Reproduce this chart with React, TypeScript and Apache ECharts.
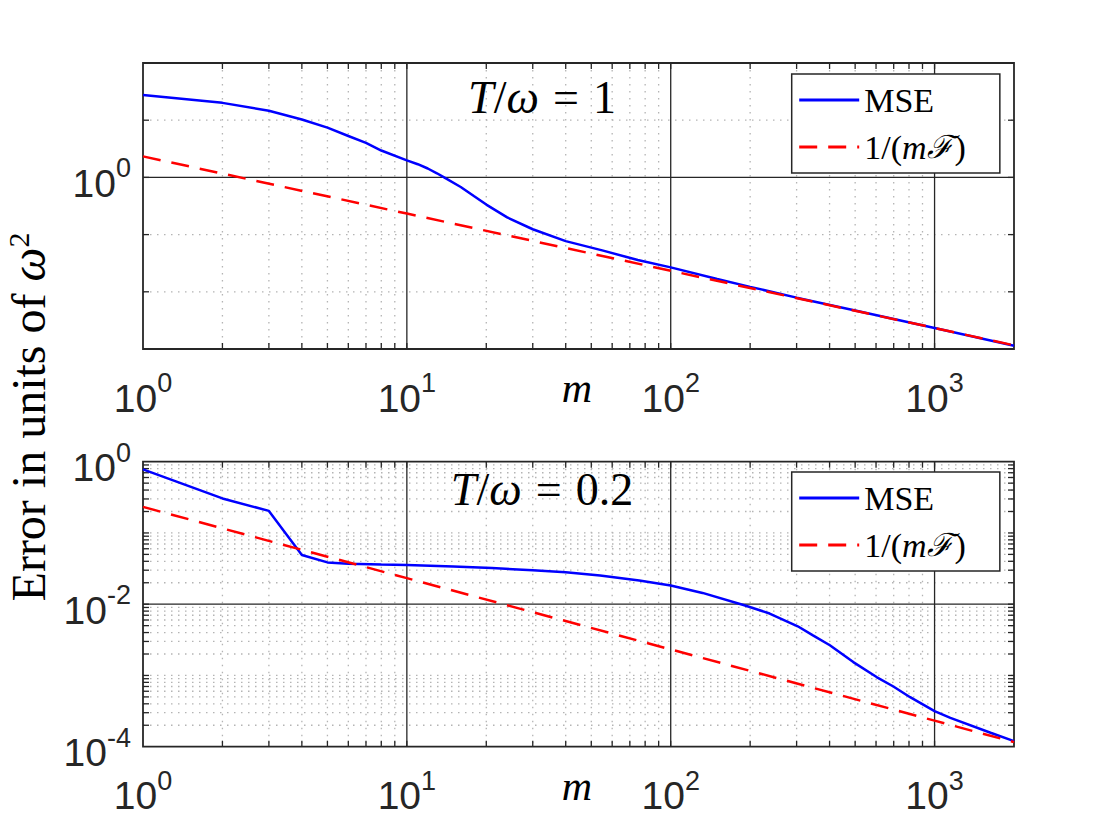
import React, { useEffect, useRef } from "react";
import * as echarts from "echarts";

// ---------- data ----------
const X_MIN = 1;
const X_MAX = 2000;
const TOP_Y_MIN = 1e-3;
const TOP_Y_MAX = 1e2;
const BOT_Y_MIN = 1e-4;
const BOT_Y_MAX = 1;

const TOP_MSE_M = [1, 2, 3, 4, 5, 6, 7, 8, 10, 11, 12, 13, 14, 16, 18, 20, 24, 30, 40, 55, 75, 100, 150, 200, 300, 500, 1000, 2000];
const TOP_MSE = [27.5, 20.1, 14.6, 10.3, 7.4, 5.3, 4.0, 2.95, 1.99, 1.7, 1.43, 1.18, 0.97, 0.68, 0.467, 0.335, 0.2, 0.124, 0.077, 0.053, 0.036, 0.0267, 0.0168, 0.0122, 0.0079, 0.0047, 0.00232, 0.00114];
const TOP_BOUND_M = [1, 10, 100, 1000, 2000];
const TOP_BOUND = [2.33, 0.233, 0.0233, 0.00233, 0.00116];

const BOT_MSE_M = [1, 2, 3, 4, 5, 6, 8, 10, 15, 21, 30, 40, 54, 76, 100, 132, 190, 237, 303, 346, 401, 492, 603, 698, 808, 1000, 1148, 1630, 2000];
const BOT_MSE = [0.78, 0.305, 0.204, 0.049, 0.0386, 0.037, 0.036, 0.0354, 0.0338, 0.0321, 0.0299, 0.0281, 0.0253, 0.0215, 0.0183, 0.0144, 0.00968, 0.0074, 0.0049, 0.00366, 0.00265, 0.00154, 0.00095, 0.0007, 0.000495, 0.000315, 0.000254, 0.000157, 0.00012];
const BOT_BOUND_M = [1, 10, 100, 1000, 2000];
const BOT_BOUND = [0.232, 0.0232, 0.00232, 0.000232, 0.000116];

// tick / grid positions
const MINOR_MULTS = [2, 3, 4, 5, 6, 7, 8, 9];
const X_DECADES = [1, 10, 100, 1000];
const X_MAJOR = [10, 100, 1000];
const TOP_Y_MAJOR = [1];
const TOP_Y_MINOR = [0.01, 0.1, 10];
const BOT_Y_DECADES = [1e-4, 1e-3, 1e-2, 1e-1];
const BOT_Y_MAJOR = [0.01];
const BOT_Y_DECADE_MINOR = [1e-3, 1e-1];

// exponents whose labels are shown
const X_LABEL_EXP = [0, 1, 2, 3];
const TOP_Y_LABEL_EXP = [0];
const BOT_Y_LABEL_EXP = [0, -2, -4];

const SERIES_NAMES = ["MSE", "1/(mℱ)"];
const TITLE_RHS = ["1", "0.2"];

// ---------- helpers ----------
const X_MINOR = X_DECADES.flatMap((d) => MINOR_MULTS.map((k) => k * d)).filter((v) => v < X_MAX);
const BOT_Y_MINOR = BOT_Y_DECADES.flatMap((d) => MINOR_MULTS.map((k) => k * d)).concat(BOT_Y_DECADE_MINOR);

const zip = (xs: number[], ys: number[]) => xs.map((x, i) => [x, ys[i]]);

const SERIF = '"Liberation Serif", "Times New Roman", serif';
const TICK_FONT = '"Liberation Sans", Arial, sans-serif';
const DARK = "#262626";

const expOf = (v: number) => {
  const l = Math.log10(v);
  const r = Math.round(l);
  return Math.abs(l - r) < 1e-6 ? r : null;
};
const makeFmt = (allowed: number[]) => (v: number) => {
  const e = expOf(v);
  if (e === null || !allowed.includes(e)) return "";
  return `{b|10}{s|${e}}`;
};

const tickRich = {
  b: { fontFamily: TICK_FONT, fontSize: 39, lineHeight: 42, color: DARK },
  s: { fontFamily: TICK_FONT, fontSize: 27, lineHeight: 10, color: DARK, padding: [0, 0, 30, 0] },
};

function gridRenderer(xMinor: number[], xMajor: number[], yMinor: number[], yMajor: number[]) {
  return (params: any, api: any) => {
    const cs = params.coordSys;
    const left = cs.x;
    const top = cs.y;
    const right = cs.x + cs.width;
    const bottom = cs.y + cs.height;
    const refX = api.value(0);
    const refY = api.value(1);
    const px = (v: number) => api.coord([v, refY])[0];
    const py = (v: number) => api.coord([refX, v])[1];
    const T = 6;
    const children: any[] = [];
    const dotted = () => ({ stroke: "#b4b4b4", lineWidth: 1.3, lineDash: [1.5, 5.5] });
    const solid = () => ({ stroke: DARK, lineWidth: 1.3 });
    const ln = (x1: number, y1: number, x2: number, y2: number, style: any) =>
      children.push({ type: "line", shape: { x1, y1, x2, y2 }, style });
    xMinor.forEach((v) => { const x = px(v); ln(x, top, x, bottom, dotted()); });
    yMinor.forEach((v) => { const y = py(v); ln(left, y, right, y, dotted()); });
    xMajor.forEach((v) => { const x = px(v); ln(x, top, x, bottom, solid()); });
    yMajor.forEach((v) => { const y = py(v); ln(left, y, right, y, solid()); });
    [...xMinor, ...xMajor].forEach((v) => {
      const x = px(v);
      ln(x, bottom, x, bottom - T, solid());
      ln(x, top, x, top + T, solid());
    });
    [...yMinor, ...yMajor].forEach((v) => {
      const y = py(v);
      ln(left, y, left + T, y, solid());
      ln(right, y, right - T, y, solid());
    });
    children.push({
      type: "rect",
      shape: { x: left, y: top, width: cs.width, height: cs.height },
      style: { fill: "none", stroke: DARK, lineWidth: 1.8 },
    });
    return { type: "group", children };
  };
}

const xAxisCfg = (gridIndex: number) => ({
  type: "log",
  logBase: 10,
  gridIndex,
  min: X_MIN,
  max: X_MAX,
  axisLine: { show: false },
  axisTick: { show: false },
  splitLine: { show: false },
  axisLabel: {
    formatter: makeFmt(X_LABEL_EXP),
    rich: tickRich,
    margin: 28,
    showMinLabel: true,
    showMaxLabel: true,
  },
});

const yAxisCfg = (gridIndex: number, min: number, max: number, exps: number[]) => ({
  type: "log",
  logBase: 10,
  gridIndex,
  min,
  max,
  axisLine: { show: false },
  axisTick: { show: false },
  splitLine: { show: false },
  axisLabel: {
    formatter: makeFmt(exps),
    rich: tickRich,
    margin: 12,
    padding: [12, 0, 0, 0],
    showMinLabel: true,
    showMaxLabel: true,
  },
});

const lineSeries = (idx: number, name: string, xs: number[], ys: number[], color: string, dashed: boolean) => ({
  type: "line",
  name,
  xAxisIndex: idx,
  yAxisIndex: idx,
  data: zip(xs, ys),
  symbol: "none",
  showSymbol: false,
  lineStyle: { color, width: 2.5, type: dashed ? [18, 11] : "solid" },
  itemStyle: { color },
  z: dashed ? 4 : 3,
  silent: true,
});

const legendCfg = (top: number) => ({
  orient: "vertical",
  left: 791.7,
  top,
  data: SERIES_NAMES,
  itemWidth: 60,
  itemHeight: 14,
  itemGap: 11,
  padding: [8, 34, 8, 6],
  backgroundColor: "#ffffff",
  borderColor: DARK,
  borderWidth: 1.5,
  borderRadius: 0,
  selectedMode: false,
  itemStyle: { color: "rgba(0,0,0,0)", borderColor: "rgba(0,0,0,0)", borderWidth: 0, opacity: 0 },
  lineStyle: { width: 3 },
  textStyle: {
    fontFamily: SERIF,
    fontSize: 34,
    lineHeight: 36,
    color: "#000",
    rich: {
      i: { fontFamily: SERIF, fontStyle: "italic", fontSize: 34, lineHeight: 36, color: "#000" },
      f: { fontFamily: SERIF, fontStyle: "italic", fontSize: 32, lineHeight: 36, color: "#000", padding: [0, 2, 0, 0] },
    },
  },
  formatter: (n: string) => (n === "MSE" ? "MSE" : "1/({i|m}{f|ℱ})"),
});

const titleRich = {
  i: { fontFamily: SERIF, fontStyle: "italic", fontSize: 46, lineHeight: 50, fill: "#000" },
  e: { fontFamily: SERIF, fontSize: 46, lineHeight: 50, padding: [0, 14, 0, 14], fill: "#000" },
};
const titleText = (rhs: string) => `{i|T}/{i|ω}{e|=}${rhs}`;

const titleGraphic = (x: number, y: number, rhs: string) => ({
  type: "text",
  x,
  y,
  z: 10,
  style: {
    text: titleText(rhs),
    fontFamily: SERIF,
    fontSize: 46,
    lineHeight: 50,
    fill: "#000",
    align: "center",
    verticalAlign: "middle",
    rich: titleRich,
  },
});

const mGraphic = (x: number, y: number) => ({
  type: "text",
  x,
  y,
  style: { text: "m", fontFamily: SERIF, fontStyle: "italic", fontSize: 42, fill: "#000", align: "center", verticalAlign: "middle" },
});

export default function App() {
  const ref = useRef<HTMLDivElement>(null);
  useEffect(() => {
    if (!ref.current) return;
    const chart = echarts.init(ref.current, undefined, { renderer: "svg" });
    const option: any = {
      animation: false,
      backgroundColor: "#ffffff",
      grid: [
        { left: 143, top: 63, width: 871, height: 286 },
        { left: 143, top: 461.7, width: 871, height: 285 },
      ],
      xAxis: [xAxisCfg(0), xAxisCfg(1)],
      yAxis: [
        yAxisCfg(0, TOP_Y_MIN, TOP_Y_MAX, TOP_Y_LABEL_EXP),
        yAxisCfg(1, BOT_Y_MIN, BOT_Y_MAX, BOT_Y_LABEL_EXP),
      ],
      legend: [legendCfg(74), legendCfg(472)],
      series: [
        {
          type: "custom",
          xAxisIndex: 0,
          yAxisIndex: 0,
          data: [[10, 1]],
          renderItem: gridRenderer(X_MINOR, X_MAJOR, TOP_Y_MINOR, TOP_Y_MAJOR),
          silent: true,
          clip: false,
          z: 1,
        },
        {
          type: "custom",
          xAxisIndex: 1,
          yAxisIndex: 1,
          data: [[10, 0.01]],
          renderItem: gridRenderer(X_MINOR, X_MAJOR, BOT_Y_MINOR, BOT_Y_MAJOR),
          silent: true,
          clip: false,
          z: 1,
        },
        lineSeries(0, SERIES_NAMES[0], TOP_MSE_M, TOP_MSE, "#0000ff", false),
        lineSeries(0, SERIES_NAMES[1], TOP_BOUND_M, TOP_BOUND, "#ff0000", true),
        lineSeries(1, SERIES_NAMES[0], BOT_MSE_M, BOT_MSE, "#0000ff", false),
        lineSeries(1, SERIES_NAMES[1], BOT_BOUND_M, BOT_BOUND, "#ff0000", true),
      ],
      graphic: [
        titleGraphic(542, 97, TITLE_RHS[0]),
        titleGraphic(542, 489, TITLE_RHS[1]),
        mGraphic(577, 388),
        mGraphic(577, 786),
        {
          type: "text",
          x: 28,
          y: 417,
          rotation: Math.PI / 2,
          style: {
            text: "Error in units of {i|ω}{s|2}",
            fontFamily: SERIF,
            fontSize: 48,
            lineHeight: 50,
            fill: "#000",
            align: "center",
            verticalAlign: "middle",
            rich: {
              i: { fontFamily: SERIF, fontStyle: "italic", fontSize: 48, lineHeight: 50, fill: "#000" },
              s: { fontFamily: SERIF, fontSize: 30, lineHeight: 12, padding: [0, 0, 20, 0], fill: "#000" },
            },
          },
        },
      ],
    };
    chart.setOption(option);
    return () => chart.dispose();
  }, []);
  return (
    <div
      ref={ref}
      style={{ position: "absolute", left: 0, top: 0, width: 1120, height: 840, background: "#fff" }}
    />
  );
}
